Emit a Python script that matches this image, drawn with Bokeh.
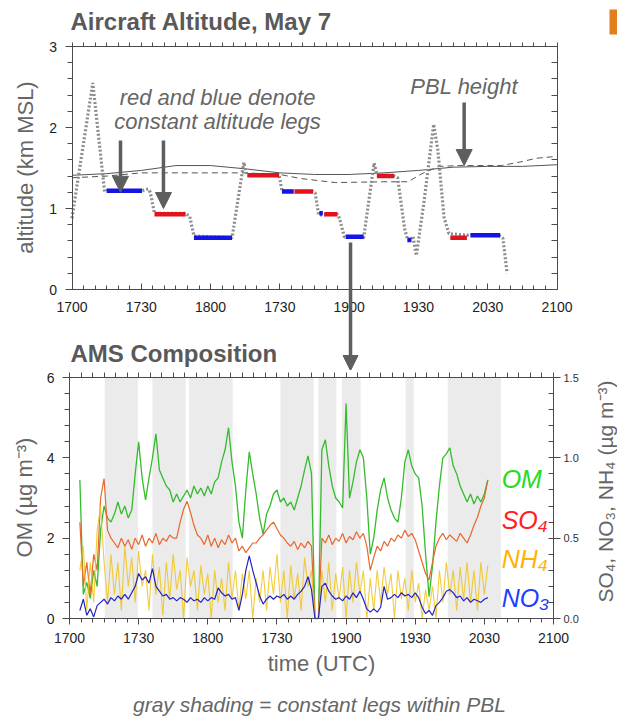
import math
import numpy as np
from bokeh.plotting import figure
from bokeh.models import (LinearAxis, Range1d, FixedTicker, Arrow, NormalHead,
                          Label, BoxAnnotation)
from bokeh.layouts import column
from bokeh.embed import file_html
from bokeh.resources import INLINE

# ---------------- data ----------------
tick_pos = [0, 1, 2, 3, 4, 5, 6, 7]
tick_labels = ["1700", "1730", "1800", "1730", "1900", "1930", "2030", "2100"]

# aircraft altitude track (time in axis-tick units, km MSL)
track_t = [0.00, 0.30, 0.47, 0.50, 1.01, 1.10, 1.13, 1.19, 1.64, 1.70, 1.76, 2.31, 2.48, 2.52,
           2.99, 3.03, 3.48, 3.51, 3.56, 3.83, 3.86, 3.93, 4.21, 4.36, 4.40, 4.65, 4.70, 4.80,
           4.84, 4.90, 4.92, 4.97, 5.08, 5.22, 5.28, 5.37, 5.44, 5.70, 5.74, 6.18, 6.22, 6.28]
track_alt = [0.88, 2.55, 1.21, 1.22, 1.22, 1.24, 1.20, 0.94, 0.94, 0.90, 0.66, 0.64, 1.57, 1.42,
             1.41, 1.22, 1.21, 1.19, 0.92, 0.93, 0.88, 0.65, 0.64, 1.56, 1.42, 1.40, 1.38, 0.75,
             0.63, 0.61, 0.66, 0.42, 1.08, 2.04, 1.72, 0.89, 0.69, 0.67, 0.68, 0.66, 0.63, 0.20]

# constant altitude legs
red_t0 = [1.19, 2.53, 3.21, 3.64, 4.40, 5.46]
red_t1 = [1.64, 2.99, 3.48, 3.83, 4.65, 5.70]
red_alt = [0.93, 1.41, 1.21, 0.93, 1.40, 0.64]
blue_t0 = [0.50, 1.76, 3.03, 3.57, 3.95, 4.84, 5.75]
blue_t1 = [1.01, 2.31, 3.20, 3.62, 4.21, 4.90, 6.18]
blue_alt = [1.22, 0.64, 1.21, 0.94, 0.65, 0.61, 0.67]

# PBL height estimates
pbl_t = [0.0, 0.5, 1.0, 1.5, 2.0, 2.5, 3.0, 3.5, 4.0, 4.5, 5.0, 5.5, 6.0, 6.5, 7.0]
pbl_solid = [1.41, 1.43, 1.47, 1.53, 1.53, 1.49, 1.44, 1.42, 1.42, 1.44, 1.47, 1.51, 1.52, 1.52, 1.54]
pbl2_t = [0.0, 0.5, 1.0, 1.5, 2.0, 2.5, 3.0, 3.3, 3.8, 4.5, 4.85, 5.05, 5.3, 5.6, 6.2, 6.5, 6.7, 6.95]
pbl_dashed = [1.38, 1.40, 1.44, 1.44, 1.44, 1.44, 1.42, 1.37, 1.32, 1.33, 1.33, 1.43, 1.52, 1.53, 1.53, 1.58, 1.62, 1.64]

# constant legs within PBL (gray shading)
shade_t0 = [0.51, 1.20, 1.73, 3.05, 3.60, 3.94, 4.86, 5.47]
shade_t1 = [0.99, 1.68, 2.36, 3.53, 3.86, 4.21, 4.98, 6.24]

# AMS composition, sampled every 0.05 tick units starting at 0.15
ams_start = 0.15
ams_step = 0.05
om = [3.45, 0.6, 0.9, 0.5, 1.2, 0.8, 2.2, 2.8, 2.5, 2.4, 2.6, 2.9, 2.6, 2.8, 2.5, 2.7, 3.6,
      4.4, 3.5, 2.95, 3.5, 4.0, 4.6, 3.7, 3.5, 3.3, 3.2, 2.9, 3.1, 2.9, 3.05, 3.2, 3.0, 3.3, 3.1, 3.25, 3.05,
      3.3, 3.1, 3.4, 3.5, 3.9, 4.2, 4.75, 3.9, 3.3, 2.4, 2.0, 3.2, 4.15, 3.6, 3.1, 2.5, 2.1, 2.6, 2.8, 3.1,
      3.2, 2.9, 3.0, 2.8, 2.9, 2.7, 3.0, 3.3, 3.7, 4.05, 3.6, 0, 0, 4.2, 4.45, 3.8, 3.3, 3.0, 2.9, 2.75,
      5.35, 3.0, 3.4, 3.9, 4.2, 4.0, 3.0, 1.6, 2.0, 2.7, 3.2, 3.5, 3.0, 2.7, 2.5, 2.4, 3.0, 3.9, 4.2, 3.8,
      3.6, 3.5, 2.8, 1.6, 0.55, 1.3, 2.4, 3.3, 4.0, 4.1, 4.25, 3.8, 3.6, 3.3, 3.1, 2.9, 3.1, 2.85, 3.05, 2.9,
      3.1, 3.45]
so4 = [0.6, 0.2, 0.35, 0.15, 0.4, 0.3, 0.75, 0.87, 0.55, 0.5, 0.47, 0.44, 0.5, 0.45, 0.49, 0.43, 0.5,
       0.46, 0.52, 0.45, 0.5, 0.47, 0.53, 0.46, 0.5, 0.48, 0.52, 0.5, 0.5, 0.6, 0.68, 0.73, 0.66, 0.58, 0.52, 0.5, 0.46,
       0.52, 0.45, 0.5, 0.44, 0.49, 0.46, 0.52, 0.47, 0.5, 0.42, 0.45, 0.41, 0.44, 0.47, 0.47, 0.5, 0.52, 0.55, 0.58, 0.6,
       0.56, 0.52, 0.5, 0.47, 0.45, 0.48, 0.43, 0.47, 0.44, 0.48, 0.45, 0, 0, 0.5, 0.47, 0.52, 0.46, 0.5, 0.48, 0.53,
       0.47, 0.51, 0.49, 0.54, 0.5, 0.53, 0.45, 0.3, 0.38, 0.45, 0.42, 0.48, 0.45, 0.5, 0.48, 0.52, 0.5, 0.55, 0.51, 0.53,
       0.49, 0.42, 0.35, 0.28, 0.24, 0.35, 0.45, 0.5, 0.53, 0.49, 0.52, 0.5, 0.48, 0.53, 0.5, 0.47, 0.52, 0.58, 0.63, 0.7,
       0.75, 0.86]
nh4 = [0.3, 0.45, 0.05, 0.35, 0.1, 0.55, 0.7, 0.35, 0.1, 0.4, 0.15, 0.35, 0.05, 0.45, 0.2, 0.38, 0.1,
       0.42, 0.2, 0.3, 0.05, 0.4, 0.15, 0.32, 0.02, 0.35, 0.12, 0.4, 0.18, 0.3, 0.0, 0.38, 0.2, 0.3, 0.05, 0.33, 0.15,
       0.28, 0.0, 0.3, 0.1, 0.25, 0.05, 0.35, 0.12, 0.3, 0.05, 0.28, 0.12, 0.3, 0.0, 0.25, 0.1, 0.3, 0.05, 0.32, 0.15,
       0.4, 0.1, 0.3, 0.0, 0.33, 0.12, 0.28, 0.05, 0.38, 0.2, 0.3, 0, 0, 0.3, 0.1, 0.35, 0.05, 0.28, 0.12, 0.32,
       0.0, 0.3, 0.1, 0.35, 0.15, 0.3, 0.0, 0.25, 0.05, 0.3, 0.1, 0.32, 0.15, 0.28, 0.0, 0.3, 0.12, 0.25, 0.05, 0.3,
       0.1, 0.22, 0.0, 0.18, 0.05, 0.2, 0.0, 0.3, 0.1, 0.35, 0.15, 0.3, 0.05, 0.32, 0.12, 0.35, 0.1, 0.3, 0.05, 0.35,
       0.15, 0.33]
no3 = [0.05, 0.12, 0.02, 0.06, 0.01, 0.08, 0.1, 0.12, 0.09, 0.13, 0.11, 0.14, 0.12, 0.15, 0.12, 0.16, 0.2,
       0.28, 0.24, 0.26, 0.22, 0.31, 0.2, 0.17, 0.14, 0.15, 0.12, 0.13, 0.11, 0.13, 0.12, 0.1, 0.13, 0.11, 0.12, 0.1, 0.13,
       0.11, 0.13, 0.12, 0.19, 0.16, 0.14, 0.15, 0.12, 0.13, 0.05, 0.15, 0.3, 0.39, 0.3, 0.22, 0.14, 0.09, 0.12, 0.14, 0.12,
       0.14, 0.13, 0.15, 0.12, 0.14, 0.12, 0.15, 0.17, 0.2, 0.26, 0.18, 0, 0, 0.2, 0.22, 0.17, 0.14, 0.12, 0.13, 0.11,
       0.14, 0.12, 0.16, 0.13, 0.17, 0.12, 0.06, 0.04, 0.06, 0.04, 0.07, 0.2, 0.12, 0.13, 0.15, 0.13, 0.16, 0.14, 0.15, 0.13,
       0.16, 0.13, 0.07, 0.03, 0.05, 0.02, 0.08, 0.1, 0.13, 0.17, 0.18, 0.16, 0.13, 0.14, 0.11, 0.13, 0.1, 0.12, 0.11, 0.1,
       0.12, 0.13]

# ---------------- layout geometry (pixels) ----------------
FONT = "Liberation Sans"
AX = "#4a4a4a"
TXT = "#666666"
ARROW_C = "#5e5e5e"
x_minor = [i / 6 for i in range(43)]

W = 617
# upper panel: whole canvas is the frame; plot box x 71.5..556.5, altitude 0 at y=289, 81 px/km
T_H = 370
T_PX = 485 / 7.0
T_X0 = 71.5
T_KM = 81.0
top_xr = Range1d(-T_X0 / T_PX, (W - T_X0) / T_PX)
top_yr = Range1d(-(T_H - 289) / T_KM, 289 / T_KM)
# lower panel: frame x 0..617 and y 370..718, plot box x 69..553, y 377..618
B_PX = 484 / 7.0
B_X0 = 69.0
B_H = 718 - T_H
B_UNIT = 241 / 6.0
bot_xr = Range1d(-B_X0 / B_PX, (W - B_X0) / B_PX)
bot_yr = Range1d(-(718 - 618) / B_UNIT, (618 - T_H) / B_UNIT)
bot_yr2 = Range1d(bot_yr.start / 4.0, bot_yr.end / 4.0)


def style_axis(ax, tin, tout, mtin, mtout, size="14px", standoff=6):
    ax.axis_line_color = AX
    ax.major_tick_line_color = AX
    ax.minor_tick_line_color = AX
    ax.major_tick_in = tin
    ax.major_tick_out = tout
    ax.minor_tick_in = mtin
    ax.minor_tick_out = mtout
    ax.major_label_text_font = FONT
    ax.major_label_text_font_size = size
    ax.major_label_text_color = "#1e1e1e"
    ax.major_label_standoff = standoff


def tick_only_axis(minor, tin, tout, **kw):
    ax = LinearAxis(ticker=FixedTicker(ticks=[], minor_ticks=minor), **kw)
    style_axis(ax, 0, 0, tin, tout)
    return ax


def make_fig(fh, xr, yr):
    p = figure(frame_width=W, frame_height=fh, min_border_left=0, min_border_right=0,
               min_border_top=0, min_border_bottom=0, x_range=xr, y_range=yr,
               output_backend="svg", toolbar_location=None, outline_line_color=None,
               background_fill_color="white", border_fill_color="white")
    p.xgrid.visible = False
    p.ygrid.visible = False
    return p


def text(p, x, y, s, size, color=TXT, style="normal", align="center", angle=0.0):
    p.add_layout(Label(x=x, y=y, text=s, text_font=FONT, text_font_size=size,
                       text_font_style=style, text_color=color, text_align=align,
                       text_baseline="middle", angle=angle))


# ---------------- top: altitude ----------------
top = make_fig(T_H, top_xr, top_yr)
xt = FixedTicker(ticks=tick_pos, minor_ticks=x_minor)
yt = FixedTicker(ticks=[0, 1, 2, 3], minor_ticks=[i * 0.2 for i in range(16)])
xa = top.xaxis[0]
xa.ticker = xt
xa.major_label_overrides = {k: v for k, v in zip(tick_pos, tick_labels)}
xa.fixed_location = 0
xa.bounds = (0, 7)
style_axis(xa, 6, 0, 4, 0, standoff=12)
ya = top.yaxis[0]
ya.ticker = yt
ya.fixed_location = 0
ya.bounds = (0, 3)
style_axis(ya, 0, 7, 0, 5, standoff=8)
top.add_layout(tick_only_axis(x_minor, 0, 4, fixed_location=3, bounds=(0, 7)), "above")
top.add_layout(tick_only_axis([i * 0.2 for i in range(16)], 6, 0, fixed_location=7, bounds=(0, 3)),
               "right")

text(top, (70 - T_X0) / T_PX, (289 - 21) / T_KM, "Aircraft Altitude, May 7", "24px",
     color="#595959", style="bold", align="left")
text(top, (25 - T_X0) / T_PX, (289 - 167) / T_KM, "altitude (km MSL)", "22px", angle=math.pi / 2)

top.line(pbl_t, pbl_solid, line_color="#555555", line_width=1)
top.line(pbl2_t, pbl_dashed, line_color="#555555", line_width=1, line_dash="6 4")
top.line(track_t, track_alt, line_color="#8c8c8c", line_width=3.2, line_dash="2 2")
top.segment(red_t0, red_alt, red_t1, red_alt, line_color="#e0141e", line_width=4.5)
top.segment(blue_t0, blue_alt, blue_t1, blue_alt, line_color="#1414e6", line_width=4.5)

for txt, xx, yy in [("red and blue denote", 2.10, 2.37), ("constant altitude legs", 2.10, 2.07),
                    ("PBL height", 5.66, 2.51)]:
    top.add_layout(Label(x=xx, y=yy, text=txt, text_font=FONT, text_font_size="22px",
                         text_font_style="italic", text_color=TXT, text_align="center",
                         text_baseline="alphabetic"))

for xx, y0, y1 in [(0.70, 1.84, 1.20), (1.32, 1.84, 1.0), (5.66, 2.31, 1.53)]:
    top.add_layout(Arrow(x_start=xx, y_start=y0, x_end=xx, y_end=y1, line_color=ARROW_C,
                         line_width=3.5,
                         end=NormalHead(size=16, fill_color=ARROW_C, line_color=ARROW_C)))

# long arrow linking the two panels
top.add_layout(Arrow(x_start=4.02, y_start=0.58, x_end=4.02, y_end=top_yr.start,
                     line_color=ARROW_C, line_width=3.5,
                     end=NormalHead(size=15, fill_color=ARROW_C, line_color=ARROW_C)))

# title of the lower panel (in the gap between the panels)
text(top, (70 - T_X0) / T_PX, (289 - 353) / T_KM, "AMS Composition", "24px",
     color="#595959", style="bold", align="left")

# orange slide mark at the top-right corner
top.add_layout(BoxAnnotation(left=(609 - T_X0) / T_PX, right=top_xr.end,
                             top=(289 - 9) / T_KM, bottom=(289 - 34) / T_KM,
                             fill_color="#e07f1c", fill_alpha=1.0, line_color=None))

# ---------------- bottom: AMS ----------------
bot = make_fig(B_H, bot_xr, bot_yr)
bot.extra_y_ranges = {"r": bot_yr2}
bx = bot.xaxis[0]
bx.ticker = xt
bx.fixed_location = 0
bx.bounds = (0, 7)
bx.major_label_overrides = {k: v for k, v in zip(tick_pos, tick_labels)}
style_axis(bx, 0, 6, 0, 4, standoff=8)
by = bot.yaxis[0]
by.ticker = FixedTicker(ticks=[0, 2, 4, 6], minor_ticks=[i * 0.4 for i in range(16)])
by.fixed_location = 0
by.bounds = (0, 6)
style_axis(by, 0, 7, 0, 5, standoff=8)
bot.add_layout(tick_only_axis(x_minor, 0, 5, fixed_location=6, bounds=(0, 7)), "above")
ax_r2 = LinearAxis(y_range_name="r", fixed_location=7, bounds=(0, 1.5),
                   ticker=FixedTicker(ticks=[0, 0.5, 1.0, 1.5], minor_ticks=[i * 0.1 for i in range(16)]))
style_axis(ax_r2, 0, 7, 5, 0, size="11px", standoff=3)
ax_r2.major_label_text_color = "#333333"
ax_r2.major_label_overrides = {0: "0.0", 0.5: "0.5", 1: "1.0", 1.5: "1.5"}
bot.add_layout(ax_r2, "right")

text(bot, (24 - B_X0) / B_PX, (618 - 497) / B_UNIT, "OM (µg m⁻³)", "22px", angle=math.pi / 2)
text(bot, (605 - B_X0) / B_PX, (618 - 491) / B_UNIT, "SO₄, NO₃, NH₄ (µg m⁻³)", "21px",
     angle=math.pi / 2)
text(bot, (321 - B_X0) / B_PX, (618 - 663) / B_UNIT, "time (UTC)", "22px")
text(bot, (319 - B_X0) / B_PX, (618 - 704) / B_UNIT, "gray shading = constant legs within PBL",
     "21px", style="italic")

bot.quad(left=shade_t0, right=shade_t1, bottom=0, top=6, fill_color="#ebebeb", line_color=None)

t_om = ams_start + ams_step * np.arange(len(om))
t_so4 = ams_start + ams_step * np.arange(len(so4))
t_nh4 = ams_start + ams_step * np.arange(len(nh4))
t_no3 = ams_start + ams_step * np.arange(len(no3))
bot.line(t_om, om, line_color="#35bb2c", line_width=1.3)
bot.line(t_so4, so4, y_range_name="r", line_color="#e8672c", line_width=1.2)
bot.line(t_nh4, nh4, y_range_name="r", line_color="#f0c31a", line_width=1.1, line_alpha=0.85)
bot.line(t_no3, no3, y_range_name="r", line_color="#2323c6", line_width=1.2)

for txt, col, yy in [("OM", "#22dd22", 3.47), ("SO₄", "#ff2020", 2.44),
                     ("NH₄", "#ffb300", 1.47), ("NO₃", "#1f3cff", 0.52)]:
    bot.add_layout(Label(x=6.25, y=yy, text=txt, text_font=FONT, text_font_size="25px",
                         text_font_style="italic", text_color=col, text_align="left",
                         text_baseline="alphabetic"))

layout = column(top, bot, spacing=0)
open("out.html", "w").write(file_html(layout, INLINE))
